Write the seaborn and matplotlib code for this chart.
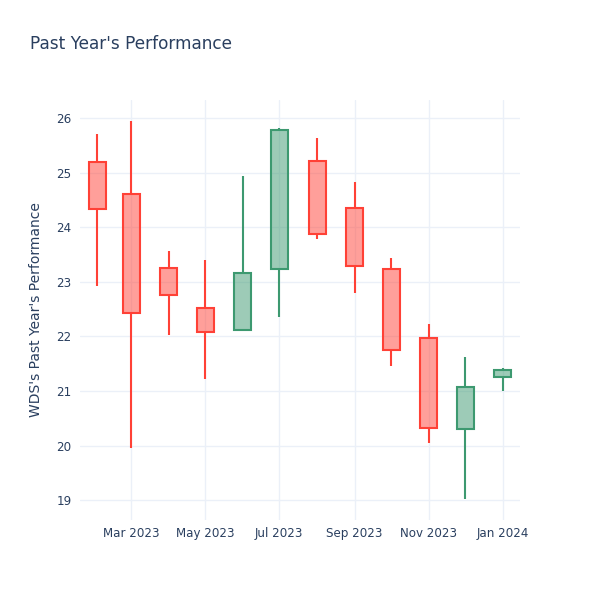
import pandas as pd
import matplotlib
matplotlib.use("Agg")
import matplotlib.pyplot as plt
import matplotlib.dates as mdates
import seaborn as sns

# Monthly OHLC
months = ["2023-02-01", "2023-03-01", "2023-04-01", "2023-05-01", "2023-06-01",
          "2023-07-01", "2023-08-01", "2023-09-01", "2023-10-01", "2023-11-01",
          "2023-12-01", "2024-01-01"]
open_ = [25.19, 24.61, 23.25, 22.52, 22.12, 23.23, 25.21, 24.35, 23.23, 21.97, 20.30, 21.25]
high = [25.71, 25.95, 23.57, 23.40, 24.93, 25.82, 25.63, 24.83, 23.43, 22.23, 21.62, 21.43]
low = [22.93, 19.95, 22.02, 21.23, 22.12, 22.36, 23.78, 22.80, 21.46, 20.05, 19.03, 21.00]
close = [24.33, 22.43, 22.76, 22.08, 23.17, 25.78, 23.88, 23.29, 21.76, 20.33, 21.08, 21.39]

df = pd.DataFrame({"date": pd.to_datetime(months), "open": open_, "high": high,
                   "low": low, "close": close})
df["up"] = df["close"] >= df["open"]
df["body_lo"] = df[["open", "close"]].min(axis=1)
df["body_hi"] = df[["open", "close"]].max(axis=1)

INK = "#2a3f5f"
RED = "#FF4136"
GREEN = "#3D9970"

sns.set_theme(style="white")
plt.rcParams["font.family"] = ["DejaVu Sans"]

fig = plt.figure(figsize=(6, 6), dpi=100)
ax = fig.add_axes([80 / 600, 80 / 600, 440 / 600, 420 / 600])

for _, r in df.iterrows():
    c = GREEN if r["up"] else RED
    # wicks above and below the body
    ax.vlines(r["date"], r["low"], r["body_lo"], color=c, lw=1.5, zorder=2)
    ax.vlines(r["date"], r["body_hi"], r["high"], color=c, lw=1.5, zorder=2)
    ax.bar(r["date"], r["body_hi"] - r["body_lo"], bottom=r["body_lo"], width=14,
           facecolor=matplotlib.colors.to_rgba(c, 0.5), edgecolor=c, linewidth=1.5,
           zorder=3)

ax.set_xlim(pd.Timestamp("2023-01-18"), pd.Timestamp("2024-01-15"))
ax.set_ylim(18.64, 26.33)
ax.set_yticks(range(19, 27))
ax.xaxis.set_major_locator(mdates.MonthLocator(bymonth=[1, 3, 5, 7, 9, 11]))
ax.xaxis.set_major_formatter(mdates.DateFormatter("%b %Y"))

ax.grid(True, color="#EBF0F8", lw=1)
ax.set_axisbelow(True)
for s in ax.spines.values():
    s.set_visible(False)
ax.tick_params(axis="both", length=0, labelsize=8.6, colors=INK)
ax.tick_params(axis="x", pad=5)
ax.tick_params(axis="y", pad=6)

ax.set_ylabel("WDS's Past Year's Performance", fontsize=10, color=INK, labelpad=10)
fig.text(30 / 600, 1 - 44 / 600, "Past Year's Performance", fontsize=12.2,
         color=INK, ha="left", va="center")

fig.savefig("out.png", dpi=100, facecolor="white")
